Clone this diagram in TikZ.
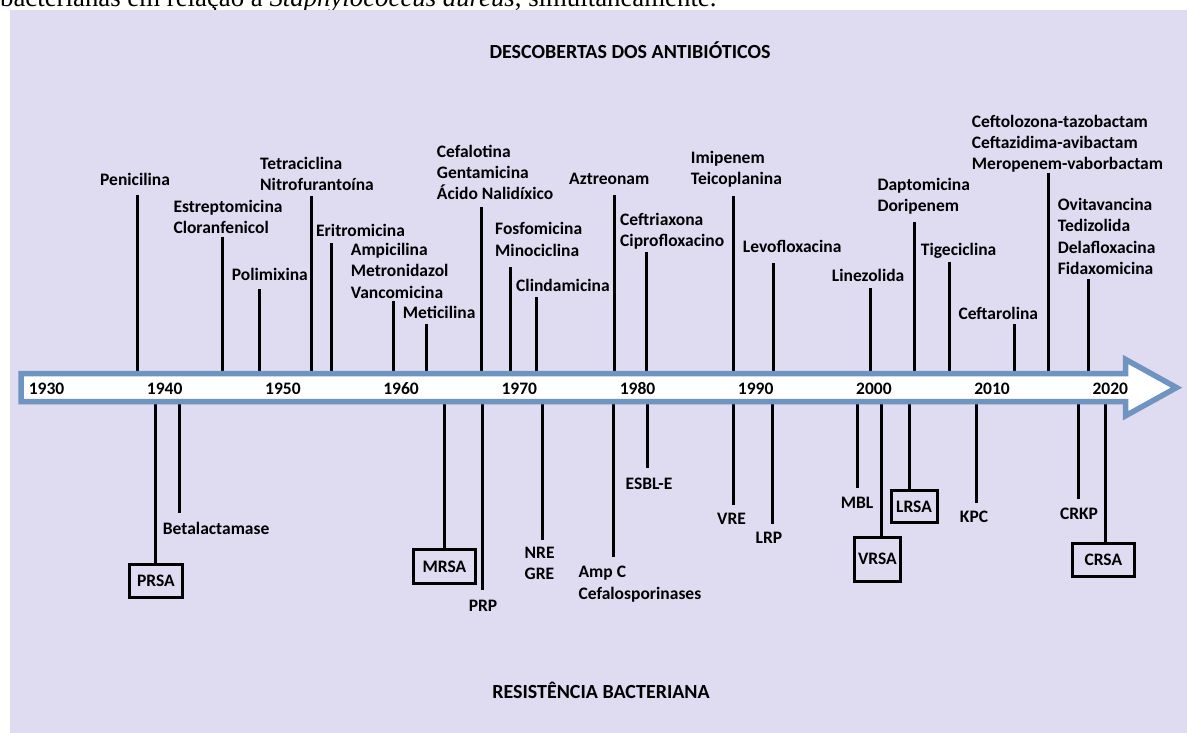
\documentclass[tikz,border=0pt]{standalone}
\usepackage{fontspec}
\setmainfont{Carlito}
\newfontfamily\serifx{Liberation Serif}
\definecolor{lav}{RGB}{223,219,241}
\definecolor{axblue}{RGB}{112,148,192}
\newcommand\labfont{\fontsize{17.5}{21.3}\selectfont\bfseries}
\newcommand\titfont{\fontsize{20}{24}\selectfont\bfseries}
% name, label x, label centre y, text, tick x, tick top y
\newcommand\toplab[6]{%
  \node[lab] (#1) at (#2,#3-9.6) {\strut #4};
  \coordinate (#1t) at (#5,#6);
  \draw[tick] (#1t) -- (#1t |- axT);}
% name, style, label x, label centre y, text, tick x, tick bottom y
\newcommand\botlab[7]{%
  \node[#2] (#1) at (#3,#4-9.6) {\strut #5};
  \coordinate (#1t) at (#6,#7);
  \draw[tick] (#1t |- axB) -- (#1t);}
% name, cx, cy, w, h, text, tick x
\newcommand\boxlab[7]{%
  \node[rbox,minimum width=#4pt,minimum height=#5pt] (#1) at (#2,#3) {#6};
  \coordinate (#1t) at (#7,0);
  \draw[tick] (#1t |- axB) -- (#1t |- #1.north);}
\begin{document}
\begin{tikzpicture}[x=1pt,y=-1pt,
  tick/.style={line width=3pt},
  lab/.style={anchor=north west,inner sep=0pt,align=left,font=\labfont},
  clab/.style={anchor=north,inner sep=0pt,align=center,font=\labfont},
  rbox/.style={draw,line width=3pt,inner sep=0pt,font=\labfont},
  year/.style={inner sep=0pt,font=\labfont},
  ttl/.style={inner sep=0pt,font=\titfont,anchor=base}]

\useasboundingbox (0,0) rectangle (1187,733);
\fill[white] (0,0) rectangle (1187,733);
\fill[lav] (10,10) rectangle (1187,733);

\begin{scope}
  \clip (0,0) rectangle (1187,10);
  \node[anchor=base west,inner sep=0pt,font=\serifx\fontsize{26.8}{30}\selectfont] (cap) at (0,7)
    {bacterianas em relação a \textit{Staphylococcus aureus}, simultaneamente.};
\end{scope}

\coordinate (axT) at (0,374);
\coordinate (axB) at (0,401);

\node[ttl] (title) at (630,58.1) {DESCOBERTAS DOS ANTIBIÓTICOS};
\node[ttl] (title2) at (601,698.4) {RESISTÊNCIA BACTERIANA};

% discoveries (above the axis)
\toplab{pen}{100}{180}{Penicilina}{137}{195}
\toplab{est}{173.3}{206.7}{Estreptomicina\\Cloranfenicol}{222.3}{236.7}
\toplab{pol}{231.7}{275}{Polimixina}{259.5}{289}
\toplab{tet}{260}{164}{Tetraciclina\\Nitrofurantoína}{311.8}{196}
\toplab{eri}{316}{230.7}{Eritromicina}{331.5}{243}
\toplab{amp}{350.7}{250}{Ampicilina\\Metronidazol\\Vancomicina}{393.2}{301}
\toplab{met}{402.7}{312.7}{Meticilina}{426.5}{324.3}
\toplab{cef}{436.7}{151.7}{Cefalotina\\Gentamicina\\Ácido Nalidíxico}{481.6}{206.7}
\toplab{fos}{495}{229.3}{Fosfomicina\\Minociclina}{510}{267}
\toplab{cli}{516}{286}{Clindamicina}{536}{297.3}
\toplab{azt}{569}{179}{Aztreonam}{614}{195}
\toplab{ctx}{620}{220}{Ceftriaxona\\Ciprofloxacino}{646}{251.7}
\toplab{imi}{690.7}{157.5}{Imipenem\\Teicoplanina}{733}{196.3}
\toplab{lev}{742.7}{247.3}{Levofloxacina}{773.3}{263.3}
\toplab{lin}{831.7}{275.7}{Linezolida}{870.2}{288.3}
\toplab{dap}{877.3}{185}{Daptomicina\\Doripenem}{914}{222.3}
\toplab{tig}{920.7}{250}{Tigeciclina}{949.3}{261.7}
\toplab{cft}{958.3}{314.3}{Ceftarolina}{1014.2}{324}
\toplab{ctz}{971.7}{121.7}{Ceftolozona-tazobactam\\Ceftazidima-avibactam\\Meropenem-vaborbactam}{1048.3}{172.7}
\toplab{ovi}{1057.7}{205}{Ovitavancina\\Tedizolida\\Delafloxacina\\Fidaxomicina}{1088.3}{279.3}

% resistance (below the axis)
\botlab{bet}{lab}{162.7}{529.3}{Betalactamase}{179.3}{513.3}
\botlab{prp}{clab}{483}{606}{PRP}{482.8}{590}
\botlab{nre}{lab}{524.5}{553}{NRE\\GRE}{542.7}{540}
\botlab{ampc}{lab}{578.4}{572.3}{Amp C\\Cefalosporinases}{613.8}{557.3}
\botlab{esbl}{clab}{649}{484}{ESBL-E}{647}{468.3}
\botlab{vre}{clab}{731.6}{519}{VRE}{733}{505}
\botlab{lrp}{clab}{769}{538.3}{LRP}{772.3}{524}
\botlab{mbl}{clab}{857}{503.3}{MBL}{857}{488.3}
\botlab{kpc}{clab}{974}{516.7}{KPC}{976.5}{502.7}
\botlab{crkp}{clab}{1079}{514.3}{CRKP}{1078.7}{499}

\boxlab{prsa}{155.9}{581.2}{53.3}{32.7}{PRSA}{155.7}
\boxlab{mrsa}{444.5}{566.7}{61.4}{33.7}{MRSA}{444.7}
\boxlab{vrsa}{877.4}{559.3}{45.8}{43.7}{VRSA}{881}
\boxlab{lrsa}{914}{506.8}{46}{32}{LRSA}{909.4}
\boxlab{crsa}{1103.3}{559.7}{62.2}{33}{CRSA}{1105}

% time axis arrow
\draw[axblue,line width=5.5pt,fill=white,line join=miter]
  (21,373.5) -- (1125.7,373.5) -- (1125.7,359.5) -- (1176.5,387.6)
  -- (1125.7,415.7) -- (1125.7,401.7) -- (21,401.7) -- cycle;

\node[year] (y1930) at (46.5,389) {1930};
\node[year] (y1940) at (164.7,389) {1940};
\node[year] (y1950) at (282.9,389) {1950};
\node[year] (y1960) at (401.1,389) {1960};
\node[year] (y1970) at (519.3,389) {1970};
\node[year] (y1980) at (637.5,389) {1980};
\node[year] (y1990) at (755.7,389) {1990};
\node[year] (y2000) at (873.9,389) {2000};
\node[year] (y2010) at (992.1,389) {2010};
\node[year] (y2020) at (1110.3,389) {2020};
\end{tikzpicture}
\end{document}
